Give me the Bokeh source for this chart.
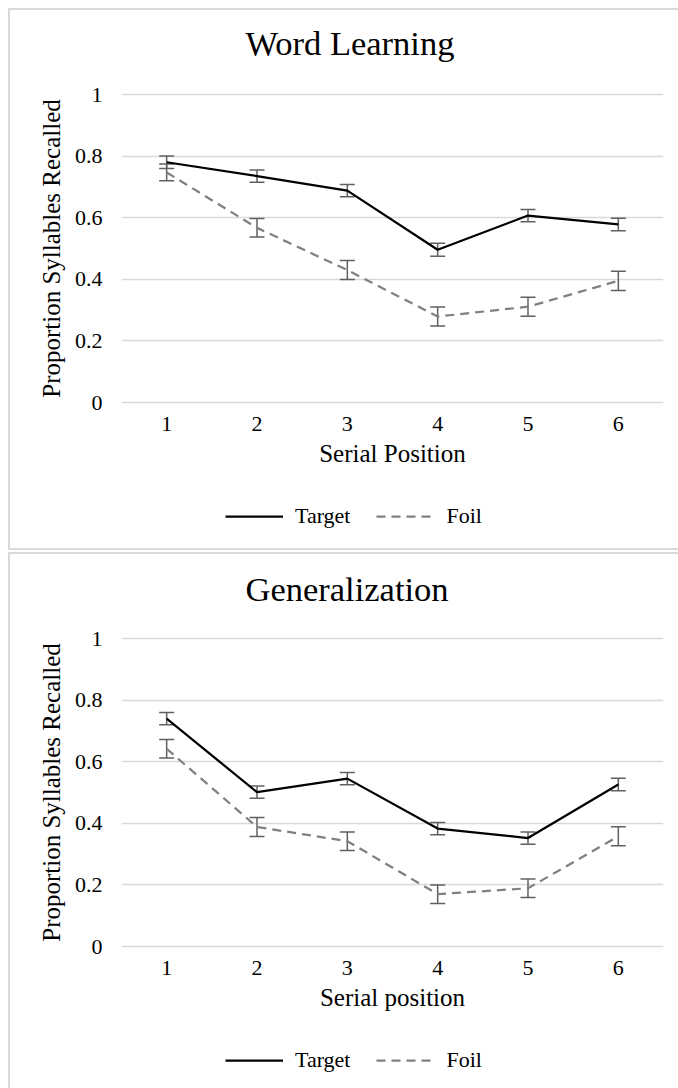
from bokeh.plotting import figure
from bokeh.models import (ColumnDataSource, Whisker, TeeHead, Legend, LegendItem,
                          Label, FixedTicker, Range1d, Spacer)
from bokeh.layouts import column
from bokeh.embed import file_html
from bokeh.resources import INLINE

# ---------------- data ----------------
positions = [1, 2, 3, 4, 5, 6]
x_tick_labels = ["1", "2", "3", "4", "5", "6"]
y_ticks = [0, 0.2, 0.4, 0.6, 0.8, 1]
y_tick_labels = ["0", "0.2", "0.4", "0.6", "0.8", "1"]

wl_title = "Word Learning"
wl_xlabel = "Serial Position"
wl_target = [0.780, 0.735, 0.688, 0.496, 0.607, 0.578]
wl_target_err = [0.020, 0.020, 0.020, 0.021, 0.020, 0.020]
wl_foil = [0.747, 0.567, 0.430, 0.279, 0.311, 0.395]
wl_foil_err = [0.027, 0.030, 0.031, 0.031, 0.031, 0.031]

gen_title = "Generalization"
gen_xlabel = "Serial position"
gen_target = [0.740, 0.501, 0.545, 0.383, 0.352, 0.526]
gen_target_err = [0.020, 0.020, 0.020, 0.020, 0.020, 0.020]
gen_foil = [0.642, 0.388, 0.342, 0.170, 0.189, 0.358]
gen_foil_err = [0.030, 0.031, 0.030, 0.030, 0.030, 0.031]

ylabel = "Proportion Syllables Recalled"
series_names = ["Target", "Foil"]

FONT = "Liberation Serif"
GRID = "#d9d9d9"
ERR = "#606060"
BORDER = "2px solid #d9d9d9"
W = 670
TARGET_STYLE = dict(line_color="black", line_width=2.25)
FOIL_STYLE = dict(line_color="#808080", line_width=2.25, line_dash="9 6")


def make_source(target, target_err, foil, foil_err):
    return ColumnDataSource(dict(
        x=positions, target=target, foil=foil,
        t_up=[v + e for v, e in zip(target, target_err)],
        t_lo=[v - e for v, e in zip(target, target_err)],
        f_up=[v + e for v, e in zip(foil, foil_err)],
        f_lo=[v - e for v, e in zip(foil, foil_err)],
    ))


def blank_fig(h, borders):
    f = figure(width=W, height=h, x_range=Range1d(-1, 0), y_range=Range1d(-1, 0),
               x_axis_type=None, y_axis_type=None,
               output_backend="svg", toolbar_location=None,
               min_border_left=0, min_border_right=0, min_border_top=0, min_border_bottom=0,
               background_fill_color="white", border_fill_color="white",
               styles={b: BORDER for b in borders})
    f.outline_line_color = None
    f.grid.visible = False
    return f


def title_fig(text, h, y_pos, borders):
    f = blank_fig(h, borders)
    f.add_layout(Label(x=124, y=y_pos, x_units="screen", y_units="screen",
                       text=text, text_font=FONT, text_font_size="34.5px",
                       text_color="black", text_align="left",
                       text_baseline="alphabetic"))
    return f


def legend_fig(src, h, legend_bottom, borders):
    f = blank_fig(h, borders)
    # legend swatches; the series lie outside this strip's ranges, so only the legend shows
    r_t = f.line("x", "target", source=src, **TARGET_STYLE)
    r_f = f.line("x", "foil", source=src, **FOIL_STYLE)
    legend = Legend(items=[LegendItem(label=series_names[0], renderers=[r_t]),
                           LegendItem(label=series_names[1], renderers=[r_f])],
                    orientation="horizontal", location=(104, legend_bottom),
                    glyph_width=58, glyph_height=20, label_standoff=12, spacing=26,
                    padding=0, margin=0, border_line_color=None,
                    background_fill_alpha=0,
                    label_text_font=FONT, label_text_font_size="22px",
                    label_text_color="black")
    f.add_layout(legend)
    return f


def main_fig(src, xlabel):
    h = 410
    p = figure(width=W, height=h,
               x_range=Range1d(0.5, 6.5), y_range=Range1d(-2 / 308, 1 + 2 / 308),
               output_backend="svg", toolbar_location=None,
               min_border_left=111, min_border_right=17,
               min_border_top=20, min_border_bottom=h - 20 - 312,
               background_fill_color="white", border_fill_color="white",
               styles={"border-left": BORDER})
    p.outline_line_color = None

    p.xaxis.ticker = FixedTicker(ticks=positions)
    p.xaxis.major_label_overrides = {pos: lab for pos, lab in zip(positions, x_tick_labels)}
    p.yaxis.ticker = FixedTicker(ticks=y_ticks)
    p.yaxis.major_label_overrides = {v: lab for v, lab in zip(y_ticks, y_tick_labels)}
    for ax in (p.xaxis, p.yaxis):
        ax.axis_line_color = None
        ax.major_tick_line_color = None
        ax.minor_tick_line_color = None
        ax.major_tick_out = 0
        ax.major_tick_in = 0
        ax.major_label_text_font = FONT
        ax.major_label_text_font_size = "22px"
        ax.major_label_text_color = "black"
        ax.axis_label_text_font = FONT
        ax.axis_label_text_font_size = "25px"
        ax.axis_label_text_font_style = "normal"
        ax.axis_label_text_color = "black"
    p.xaxis.axis_label = xlabel
    p.yaxis.axis_label = ylabel
    p.xaxis.major_label_standoff = 12
    p.xaxis.axis_label_standoff = 6
    p.yaxis.major_label_standoff = 19
    p.yaxis.axis_label_standoff = 7

    p.xgrid.grid_line_color = None
    p.ygrid.ticker = FixedTicker(ticks=y_ticks)
    p.ygrid.grid_line_color = GRID
    p.ygrid.grid_line_width = 1.5

    p.line("x", "target", source=src, **TARGET_STYLE)
    p.line("x", "foil", source=src, **FOIL_STYLE)

    for up, lo in (("t_up", "t_lo"), ("f_up", "f_lo")):
        p.add_layout(Whisker(source=src, base="x", upper=up, lower=lo,
                             line_color=ERR, line_width=1.5,
                             upper_head=TeeHead(size=15, line_color=ERR, line_width=1.5),
                             lower_head=TeeHead(size=15, line_color=ERR, line_width=1.5)))
    return p


src1 = make_source(wl_target, wl_target_err, wl_foil, wl_foil_err)
src2 = make_source(gen_target, gen_target_err, gen_foil, gen_foil_err)

t1 = title_fig(wl_title, 64, 31.5, ["border-top", "border-left"])
m1 = main_fig(src1, wl_xlabel)
l1 = legend_fig(src1, 68, 21, ["border-left", "border-bottom"])

t2 = title_fig(gen_title, 64, 29.5, ["border-top", "border-left"])
m2 = main_fig(src2, gen_xlabel)
l2 = legend_fig(src2, 62, 15, ["border-left"])

layout = column(t1, m1, l1, Spacer(width=W, height=2), t2, m2, l2, spacing=0)
layout.margin = (8, 0, 0, 8)
open("out.html", "w").write(file_html(layout, INLINE))
